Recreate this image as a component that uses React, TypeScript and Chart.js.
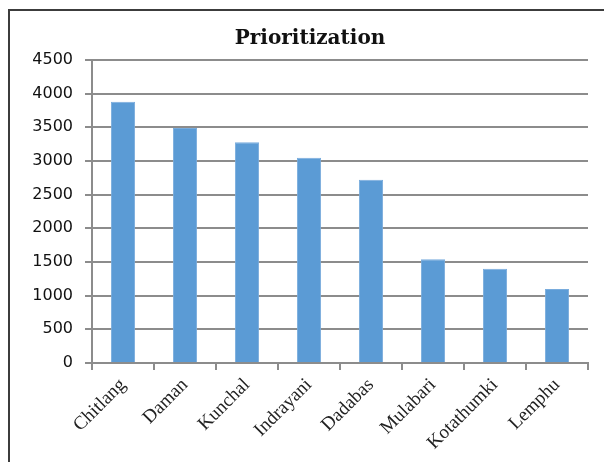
import React, { useEffect, useRef } from "react";
import { Chart, registerables } from "chart.js";

Chart.register(...registerables);

const categories = ["Chitlang", "Daman", "Kunchal", "Indrayani", "Dadabas", "Mulabari", "Kotathumki", "Lemphu"];
const values = [3880, 3490, 3280, 3050, 2720, 1540, 1400, 1100];
const yMin = 0;
const yMax = 4500;
const yStep = 500;
const chartTitle = "Prioritization";

const frameBorder = {
  id: "frameBorder",
  beforeDraw(chart: any) {
    const ctx = chart.ctx;
    ctx.save();
    ctx.fillStyle = "#3c3c3c";
    ctx.fillRect(0, 1, chart.width, 2);
    ctx.fillRect(0, 1, 2, chart.height);
    ctx.restore();
  },
};

export default function App() {
  const ref = useRef<HTMLCanvasElement | null>(null);

  useEffect(() => {
    if (!ref.current) return;
    const chart = new Chart(ref.current, {
      type: "bar",
      data: {
        labels: categories,
        datasets: [
          {
            data: values,
            backgroundColor: "#5b9bd5",
            borderColor: "#79acdd",
            borderWidth: 1,
            barPercentage: 0.39,
            categoryPercentage: 1,
          },
        ],
      },
      plugins: [frameBorder],
      options: {
        responsive: false,
        animation: false,
        layout: { padding: { left: 24, right: 24, top: 0, bottom: 0 } },
        plugins: {
          legend: { display: false },
          tooltip: { enabled: false },
          title: {
            display: true,
            text: chartTitle,
            color: "#111",
            font: { family: "DejaVu Serif", size: 20, weight: "bold", lineHeight: 1.2 },
            padding: { top: 19, bottom: 9 },
          },
        },
        scales: {
          x: {
            grid: {
              drawOnChartArea: false,
              drawTicks: true,
              tickLength: 7,
              offset: true,
              color: "#8c8c8c",
              lineWidth: 2,
            },
            border: { color: "#8c8c8c", width: 2 },
            ticks: {
              minRotation: 45,
              maxRotation: 45,
              padding: 4,
              color: "#222",
              font: { family: "Liberation Serif", size: 19 },
            },
            afterFit: (scale: any) => {
              scale.height = 99;
            },
          },
          y: {
            min: yMin,
            max: yMax,
            ticks: {
              stepSize: yStep,
              padding: 12,
              color: "#111",
              font: { family: "DejaVu Sans", size: 16 },
              callback: (v: any) => String(v),
            },
            grid: {
              color: "#8c8c8c",
              lineWidth: 2,
              tickLength: 7,
            },
            border: { color: "#8c8c8c", width: 2 },
            afterFit: (scale: any) => {
              scale.width = 60;
            },
          },
        },
      },
    });
    return () => chart.destroy();
  }, []);

  return (
    <div style={{ position: "relative", width: 604, height: 454 }}>
      <canvas ref={ref} width={604} height={454} style={{ position: "absolute", left: 0, top: 0 }} />
    </div>
  );
}
